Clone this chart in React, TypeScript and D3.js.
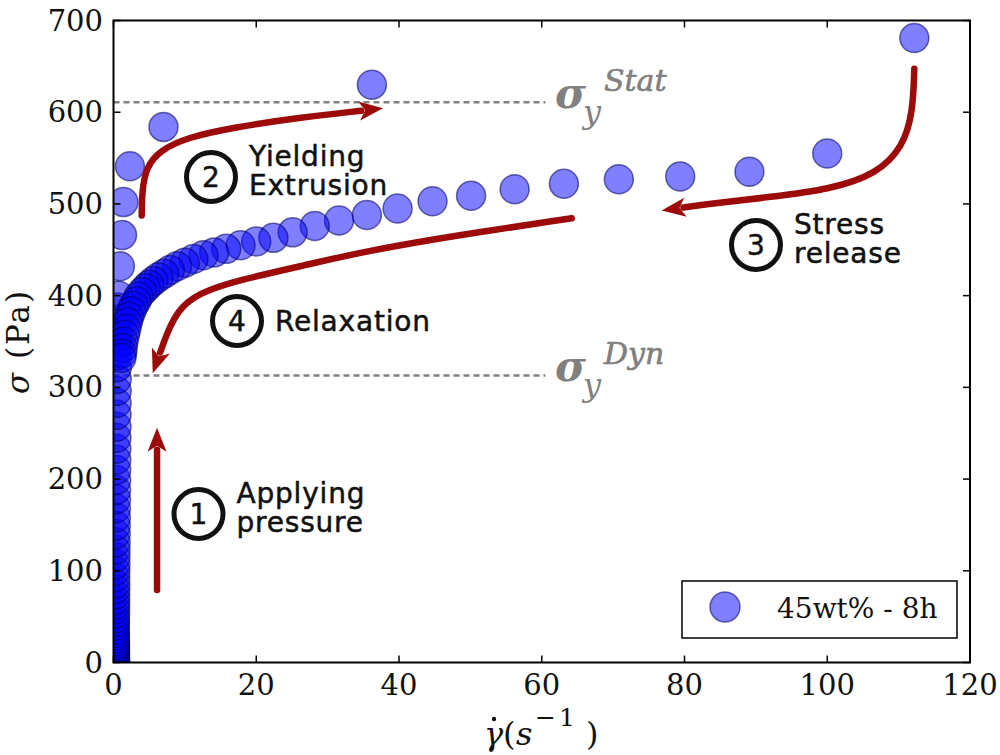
import * as d3 from "d3";

// measured curve, in order: pressure ramp, yielding, relaxation
const rampStress = [0.5, 1, 1.5, 2, 2.5, 3, 4, 5, 6, 7, 8, 9, 10, 12, 14, 16, 18, 20, 23, 26, 29, 32, 36, 40, 44, 48, 53, 58, 63, 68, 74, 80, 86, 93, 100, 107, 115, 123, 131, 140, 149, 158, 168, 178, 188, 199, 210, 221, 233, 245, 257, 270, 283, 296, 309, 322, 335, 348, 361, 374, 387];
const rampShear = [0.2, 0.2, 0.2, 0.2, 0.2, 0.2, 0.2, 0.2, 0.2, 0.2, 0.2, 0.2, 0.2, 0.2, 0.2, 0.2, 0.2, 0.2, 0.2, 0.2, 0.2, 0.2, 0.2, 0.2, 0.2, 0.2, 0.22, 0.22, 0.22, 0.23, 0.24, 0.24, 0.25, 0.25, 0.26, 0.27, 0.28, 0.29, 0.3, 0.31, 0.32, 0.33, 0.34, 0.35, 0.36, 0.37, 0.38, 0.39, 0.4, 0.41, 0.42, 0.43, 0.44, 0.45, 0.46, 0.48, 0.5, 0.52, 0.54, 0.56, 0.6];

const yieldShear = [0.7, 0.9, 1.2, 1.4, 2.3, 7.0, 36.2, 112.2];
const yieldStress = [400, 432, 466, 502, 541, 584, 630, 681];

const relaxShear = [100, 89.1, 79.4, 70.8, 63.1, 56.2, 50.1, 44.7, 39.8, 35.5, 31.6, 28.2, 25.1, 22.4, 20.0, 17.8, 15.8, 14.1, 12.6, 11.2, 10.0, 8.9, 7.9, 7.1, 6.3, 5.6, 5.0, 4.5, 4.0, 3.5, 3.2, 2.8, 2.5, 2.2, 2.0, 1.8, 1.6, 1.4, 1.3, 1.2, 1.1];
const relaxStress = [555, 535, 530, 527, 522, 516, 509, 503, 495, 488, 482, 476, 469, 463, 459, 455, 451, 447, 444, 440, 436, 432, 428, 424, 420, 416, 412, 408, 404, 399, 394, 389, 383, 377, 371, 364, 357, 350, 343, 337, 332];

const xTicks = [0, 20, 40, 60, 80, 100, 120];
const yTicks = [0, 100, 200, 300, 400, 500, 600, 700];

const sigmaStat = 611;
const sigmaDyn = 313;
const refLineEnd = 60.5;

// annotation arrows, in data units (last point = tip)
const arrow1 = [[6.1, 79], [6.1, 256]];
const arrow2 = [[3.95, 487.5], [4.0, 515.0], [4.6, 540.0], [6.4, 558.0], [10.3, 572.5], [16.74, 583.4], [26.13, 594.3], [37.76, 604.2]];
const arrow3 = [[112.2, 647.5], [112.0, 600.0], [110.6, 562.0], [107.0, 533.0], [100.5, 516.0], [92.0, 507.5], [84.0, 500.5], [76.8, 492.9]];
const arrow4 = [[64.2, 484.3], [47.1, 464.7], [34.5, 447.2], [26.8, 433.1], [17.4, 416.8], [11.8, 402.6], [9.0, 384.1], [7.5, 359.0], [5.5, 315.4]];

const steps = [
  { n: "1", cx: 198.5, cy: 514, lines: ["Applying", "pressure"] },
  { n: "2", cx: 211, cy: 177, lines: ["Yielding", "Extrusion"] },
  { n: "3", cx: 756, cy: 245, lines: ["Stress", "release"] },
  { n: "4", cx: 237, cy: 321, lines: ["Relaxation"] },
];

const W = 1000;
const H = 755;
const left = 113.5, right = 970, top = 20.5, bottom = 662.5;
const serif = "'DejaVu Serif', serif";
const sans = "'DejaVu Sans', sans-serif";
const red = "#9c0a0a";
const ink = "#111";

const x = d3.scaleLinear().domain([0, 120]).range([left, right]);
const y = d3.scaleLinear().domain([0, 700]).range([bottom, top]);

function arrowParts(pts: number[][]) {
  const p = pts.map(([a, b]) => [x(a), y(b)] as [number, number]);
  const tip = p[p.length - 1];
  const prev = p[p.length - 2];
  let dx = tip[0] - prev[0], dy = tip[1] - prev[1];
  const len = Math.hypot(dx, dy);
  dx /= len; dy /= len;
  const hl = 22, hw = 9.5;
  const base: [number, number] = [tip[0] - dx * hl, tip[1] - dy * hl];
  const shaft = d3.line().curve(d3.curveBasis)([...p.slice(0, -1), base]) || "";
  const nx = -dy, ny = dx;
  const head = [
    tip,
    [base[0] + nx * hw - dx * 2, base[1] + ny * hw - dy * 2],
    [base[0] + dx * 4, base[1] + dy * 4],
    [base[0] - nx * hw - dx * 2, base[1] - ny * hw - dy * 2],
  ].map((q) => q.join(",")).join(" ");
  return { shaft, head };
}

export default function App() {
  const shear = [...rampShear, ...yieldShear, ...relaxShear];
  const stress = [...rampStress, ...yieldStress, ...relaxStress];
  const arrows = [arrow1, arrow2, arrow3, arrow4].map(arrowParts);

  return (
    <svg width={W} height={H} style={{ position: "absolute", left: 0, top: 0, background: "#fff" }}>
      <defs>
        <clipPath id="plot">
          <rect x={left} y={top} width={right - left} height={bottom - top} />
        </clipPath>
      </defs>

      {/* reference yield stresses */}
      {[sigmaStat, sigmaDyn].map((s) => (
        <line key={s} x1={x(0)} x2={x(refLineEnd)} y1={y(s)} y2={y(s)}
          stroke="#808080" strokeWidth={2.5} strokeDasharray="6,4" />
      ))}

      <g clipPath="url(#plot)">
        {shear.map((g, i) => (
          <circle key={i} cx={x(g)} cy={y(stress[i])} r={14.5}
            fill="#0000ff" fillOpacity={0.5} stroke="#000060" strokeOpacity={0.55} strokeWidth={1.5} />
        ))}
      </g>

      {/* arrows */}
      {arrows.map((a, i) => (
        <g key={i}>
          <path d={a.shaft} fill="none" stroke={red} strokeWidth={6.5} strokeLinecap="round" />
          <polygon points={a.head} fill={red} />
        </g>
      ))}

      {/* numbered steps */}
      {steps.map((s) => (
        <g key={s.n} fill={ink} stroke={ink} strokeWidth={0.5} fontFamily={sans} fontSize={28}>
          <circle cx={s.cx} cy={s.cy} r={24.5} fill="none" strokeWidth={5} />
          <text x={s.cx} y={s.cy + 10} textAnchor="middle">{s.n}</text>
          {s.lines.map((l, j) => (
            <text key={j} x={s.cx + 38} y={s.lines.length === 1 ? s.cy + 10 : s.cy - 11 + j * 29}
              letterSpacing={0.8}>{l}</text>
          ))}
        </g>
      ))}

      {/* sigma_y labels */}
      {[{ s: sigmaStat, sup: "Stat" }, { s: sigmaDyn, sup: "Dyn" }].map((d) => (
        <g key={d.sup} fill="#808080" fontFamily={serif} fontStyle="italic">
          <text x={555} y={y(d.s) + 6} fontSize={42} fontWeight="bold">σ</text>
          <text x={583} y={y(d.s) + 21} fontSize={32}>y</text>
          <text x={604} y={y(d.s) - 11} fontSize={30} stroke="#808080" strokeWidth={0.6}>{d.sup}</text>
        </g>
      ))}

      {/* frame and ticks */}
      <rect x={left} y={top} width={right - left} height={bottom - top} fill="none" stroke="#000" strokeWidth={2} />
      {xTicks.map((t) => (
        <g key={"x" + t}>
          <line x1={x(t)} x2={x(t)} y1={bottom} y2={bottom - 7} stroke="#000" strokeWidth={1.5} />
          <line x1={x(t)} x2={x(t)} y1={top} y2={top + 7} stroke="#000" strokeWidth={1.5} />
          <text x={x(t)} y={695} textAnchor="middle" fontFamily={serif} fontSize={29} fill={ink}>{t}</text>
        </g>
      ))}
      {yTicks.map((t) => (
        <g key={"y" + t}>
          <line x1={left} x2={left + 7} y1={y(t)} y2={y(t)} stroke="#000" strokeWidth={1.5} />
          <line x1={right} x2={right - 7} y1={y(t)} y2={y(t)} stroke="#000" strokeWidth={1.5} />
          <text x={103} y={y(t) + 10} textAnchor="end" fontFamily={serif} fontSize={29} fill={ink}>{t}</text>
        </g>
      ))}

      {/* axis titles */}
      <text transform={`translate(29,${(top + bottom) / 2}) rotate(-90)`} textAnchor="middle"
        fontFamily={serif} fontSize={31} letterSpacing={2} fill={ink}>
        <tspan fontStyle="italic">σ</tspan> (Pa)
      </text>
      <g fontFamily={serif} fill={ink}>
        <text x={484} y={745} fontSize={32} fontStyle="italic">γ</text>
        <circle cx={494} cy={719} r={2.2} fill={ink} />
        <text x={503} y={745} fontSize={32}>(</text>
        <text x={516} y={745} fontSize={32} fontStyle="italic">s</text>
        <text x={535} y={726} fontSize={25} letterSpacing={3}>−1</text>
        <text x={586} y={745} fontSize={32}>)</text>
      </g>

      {/* legend */}
      <rect x={682} y={581} width={275} height={57} fill="#fff" stroke="#000" strokeWidth={1.5} />
      <circle cx={725} cy={607} r={15} fill="#0000ff" fillOpacity={0.5} stroke="#000060" strokeOpacity={0.55} strokeWidth={1.5} />
      <text x={777} y={618} fontFamily={serif} fontSize={28} fill={ink}>45wt% - 8h</text>
    </svg>
  );
}
